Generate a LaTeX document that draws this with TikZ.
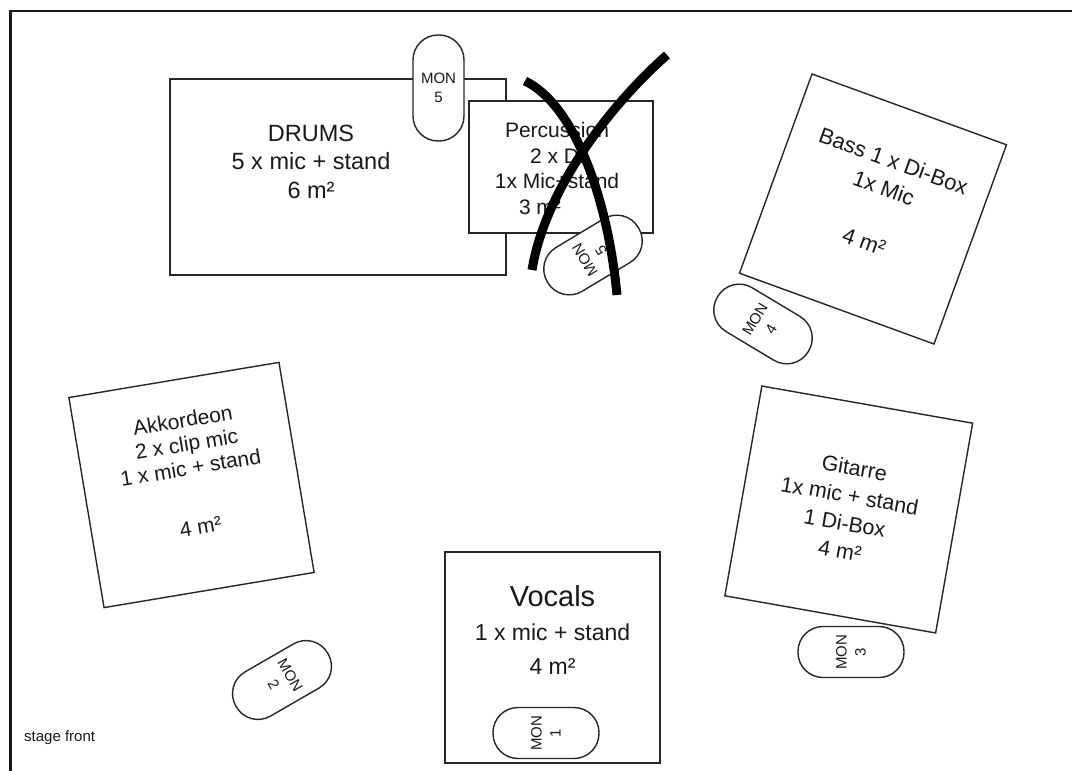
\documentclass[tikz,border=0pt]{standalone}
\usepackage{fontspec}
\setmainfont{Liberation Sans}
\begin{document}
\begin{tikzpicture}[x=1pt,y=-1pt,
  box/.style={draw=black!85, line width=1.4pt, fill=white, inner sep=0pt},
  mon/.style={draw=black!85, line width=1.4pt, fill=white, rounded corners=25pt,
    minimum width=51pt, minimum height=106pt, inner sep=0pt, align=center,
    font=\fontsize{15}{19}\selectfont, text=black!90},
  lbl/.style={inner sep=0pt, align=center, text=black!90},
  cross/.style={line width=9pt, black}]
\useasboundingbox (0,0) rectangle (1072,771);
\clip (0,0) rectangle (1072,771);
\fill[white] (0,0) rectangle (1072,771);
\draw[line width=2.5pt, black!90] (10.5,11) rectangle (1090,790);

% Drums
\node[box, minimum width=336pt, minimum height=196pt] (drums) at (338,177) {};
\node[lbl, font=\fontsize{23.5}{28.5}\selectfont] (drumst) at (311,161.5) {DRUMS\\5 x mic + stand\\6 m²};
\node[mon] (mon5a) at (438.5,88) {MON\\5};

% Percussion
\node[box, minimum width=184pt, minimum height=132pt] (perc) at (561,167) {};
\node[lbl, font=\fontsize{21}{25.7}\selectfont] (perct) at (557,168.5) {Percussion\\2 x Di\\1x Mic+stand\\3 m²\hspace*{34pt}};
\node[mon, rotate=121] (mon5b) at (593,255) {MON\\5};

% Bass
\node[box, minimum width=207pt, minimum height=212pt, rotate=-20] (bass) at (873,209) {};
\node[lbl, rotate=-20, font=\fontsize{22}{28.5}\selectfont] (basst) at (879,201) {Bass 1 x Di-Box\\1x Mic\\[28.5pt]4 m²};
\node[mon, rotate=59] (mon4) at (763,324) {MON\\4};

% Akkordeon
\node[box, minimum size=213pt, rotate=9.5] (akk) at (191.5,485) {};
\node[lbl, rotate=9.5, font=\fontsize{21}{24}\selectfont] (akkt) at (191.6,473.3) {Akkordeon\\2 x clip mic\\1 x mic + stand\\[36pt]4 m²};
\node[mon, rotate=-60] (mon2) at (282,680) {MON\\2};

% Vocals
\node[box, minimum width=215pt, minimum height=211pt] (voc) at (552.5,657.5) {};
\node[lbl, font=\fontsize{23}{34}\selectfont] (voct) at (552.5,629.7) {{\fontsize{29}{34}\selectfont Vocals}\\1 x mic + stand\\4 m²};
\node[mon, rotate=90] (mon1) at (546,733) {MON\\1};

% Gitarre
\node[box, minimum width=214pt, minimum height=213pt, rotate=-10] (git) at (848.75,509.5) {};
\node[lbl, rotate=-10, font=\fontsize{21.5}{28}\selectfont] (gitt) at (847.3,509.2) {Gitarre\\1x mic + stand\\1 Di-Box\\4 m²};
\node[mon, rotate=90] (mon3) at (851,652) {MON\\3};

% stage front
\node[lbl, anchor=west, font=\fontsize{15}{18}\selectfont] (stage) at (24,738) {stage front};

% cross over percussion
\draw[cross] (525,81) .. controls (575,105) and (608,200) .. (617,295);
\draw[cross] (667,55) .. controls (610,105) and (545,190) .. (532,270);
\end{tikzpicture}
\end{document}
